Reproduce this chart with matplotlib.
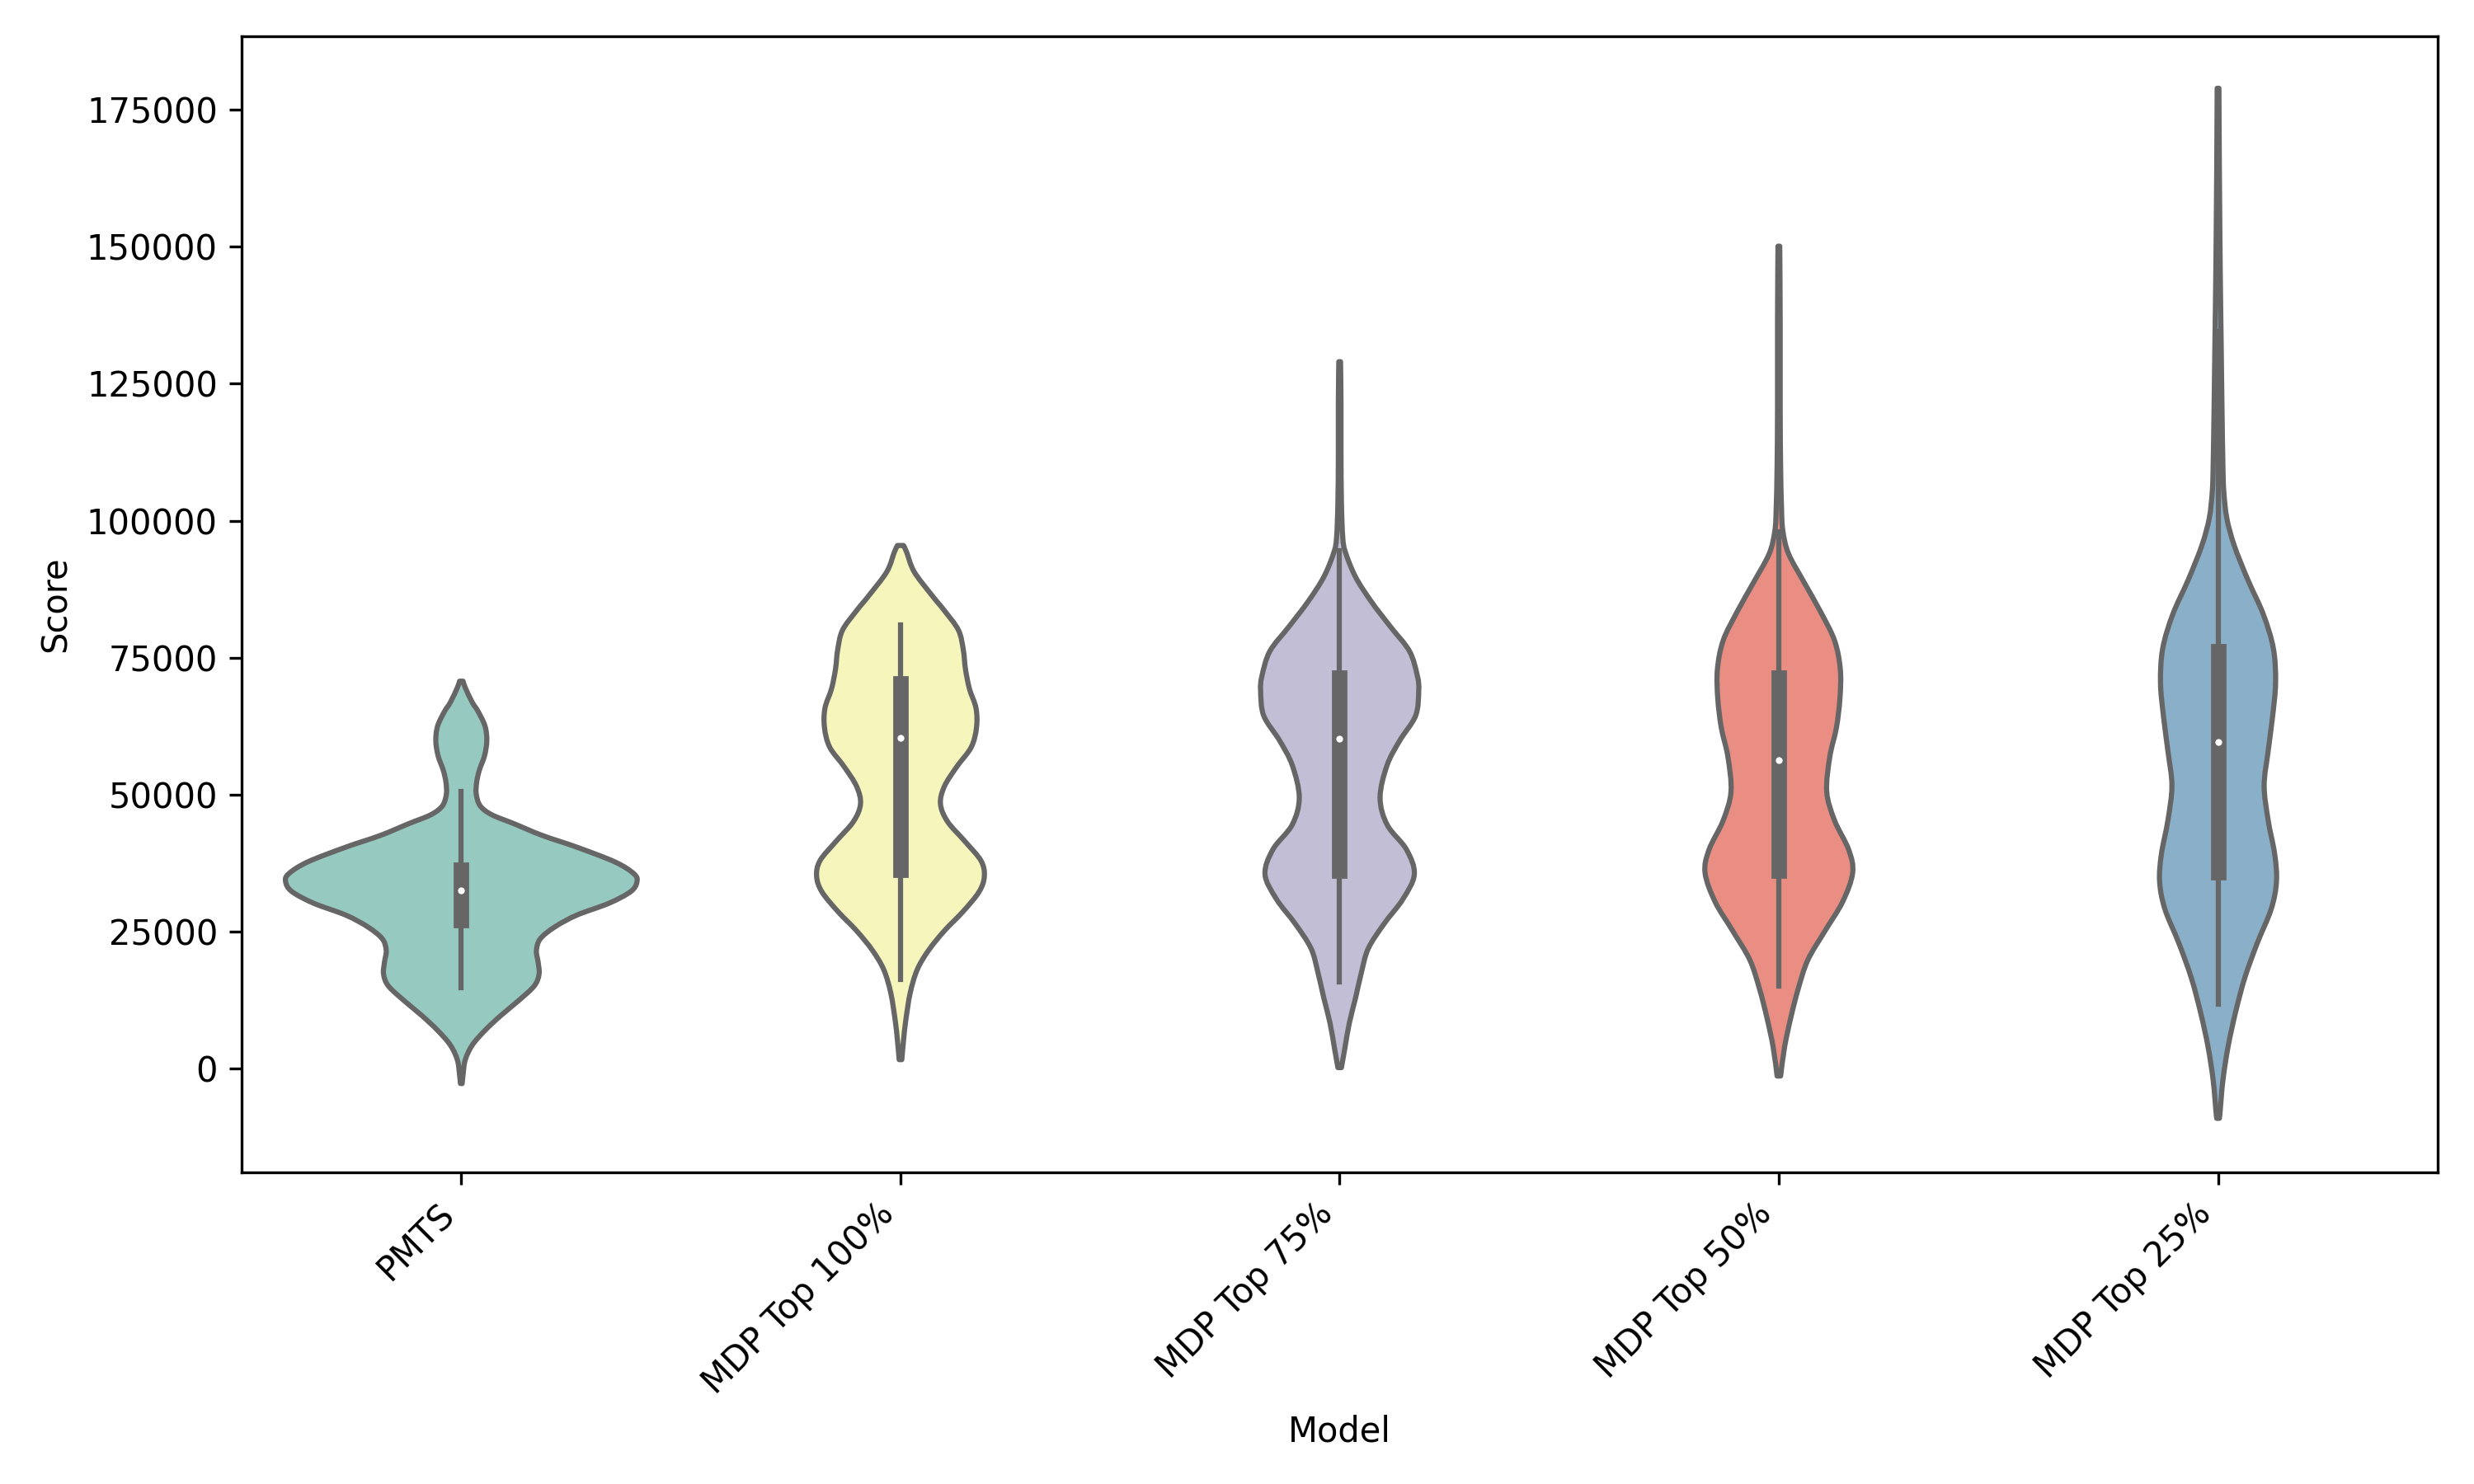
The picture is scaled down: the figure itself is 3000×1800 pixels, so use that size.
import colorsys
import numpy as np
import matplotlib
matplotlib.use("Agg")
import matplotlib.pyplot as plt
from matplotlib.colors import to_rgb
from matplotlib.path import Path
from matplotlib.patches import PathPatch

# ---------------- data ----------------
models = ["PMTS", "MDP Top 100%", "MDP Top 75%", "MDP Top 50%", "MDP Top 25%"]

# violin outlines: score values and half-width (kernel density, in category units)
pmts_y = [70720, 69535, 66850, 65225, 62520, 59835, 57150, 54450, 52280, 50135,
          47975, 46365, 44745, 42585, 40435, 37735, 35585, 34130, 32345, 30195,
          28035, 25885, 23725, 21575, 19415, 17255, 15105, 12405, 9715, 7010,
          4325, 1620, -1070, -2690]
pmts_d = [0.004, 0.009, 0.025, 0.038, 0.054, 0.058, 0.053, 0.041, 0.035, 0.034,
          0.043, 0.069, 0.119, 0.184, 0.263, 0.350, 0.393, 0.400, 0.386, 0.336,
          0.263, 0.213, 0.180, 0.171, 0.175, 0.177, 0.166, 0.130, 0.090, 0.054,
          0.025, 0.009, 0.004, 0.002]

top100_y = [95480, 94265, 90705, 86440, 83590, 80030, 76455, 72900, 69340, 65780,
            62220, 58660, 55090, 51530, 48335, 45120, 41560, 38005, 35150, 32300,
            28740, 25180, 21620, 18065, 13785, 8800, 5240, 1665]
top100_d = [0.007, 0.014, 0.031, 0.071, 0.100, 0.132, 0.143, 0.148, 0.157, 0.172,
            0.173, 0.161, 0.128, 0.100, 0.091, 0.107, 0.146, 0.183, 0.191, 0.179,
            0.143, 0.100, 0.064, 0.038, 0.022, 0.012, 0.007, 0.003]

top75_y = [129010, 121410, 112370, 103330, 96995, 94280, 89760, 85240, 80720, 76185,
           71665, 68950, 64430, 59910, 55390, 49505, 44535, 40015, 35480, 30960,
           26440, 21920, 17400, 12870, 8350, 3830, 210]
top75_d = [0.002, 0.003, 0.003, 0.004, 0.007, 0.013, 0.036, 0.072, 0.115, 0.159,
           0.177, 0.180, 0.173, 0.137, 0.108, 0.092, 0.108, 0.152, 0.170, 0.144,
           0.101, 0.065, 0.049, 0.036, 0.022, 0.012, 0.004]

top50_y = [150090, 136340, 120450, 109850, 102450, 98215, 93980, 88680, 83380, 78095,
           72795, 67510, 62210, 56910, 50555, 45270, 39970, 35735, 30435, 25150,
           19850, 14565, 9265, 3965, -1320]
top50_d = [0.002, 0.003, 0.003, 0.004, 0.006, 0.009, 0.022, 0.058, 0.095, 0.127,
           0.140, 0.139, 0.131, 0.116, 0.109, 0.127, 0.159, 0.168, 0.145, 0.105,
           0.066, 0.044, 0.027, 0.013, 0.004]

top25_y = [178900, 164265, 145495, 132985, 120470, 110460, 105450, 100450, 95450, 89190,
           82930, 76680, 70420, 64160, 57910, 51650, 45390, 39145, 34130, 29130,
           22870, 16620, 10360, 4100, -2150, -8410, -9000]
top25_d = [0.002, 0.003, 0.005, 0.007, 0.009, 0.011, 0.013, 0.020, 0.037, 0.068,
           0.103, 0.126, 0.131, 0.124, 0.114, 0.105, 0.114, 0.129, 0.133, 0.121,
           0.089, 0.061, 0.040, 0.023, 0.011, 0.004, 0.002]

# inner box statistics
q1 = [27130, 36350, 36170, 36095, 35795]
median = [32510, 60360, 60180, 56380, 59660]
q3 = [36325, 70290, 71430, 71385, 76140]
whisker_low = [14765, 16250, 15875, 15035, 11730]
whisker_high = [50580, 80910, 94500, 98000, 134500]

# ---------------- styling ----------------
base_palette = ["#8dd3c7", "#ffffb3", "#bebada", "#fb8072", "#80b1d3"]  # Set3


def desaturate(c, prop):
    h, l, s = colorsys.rgb_to_hls(*to_rgb(c))
    return colorsys.hls_to_rgb(h, l, s * prop)


colors = [desaturate(c, 0.75) for c in base_palette]
lum = min(colorsys.rgb_to_hls(*to_rgb(c))[1] for c in base_palette) * 0.6
gray = (lum, lum, lum)
lw = 1.5


def smooth_side(pts):
    """Bezier (Catmull-Rom) path segments through the given outline points."""
    verts, codes = [], []
    n = len(pts)
    for k in range(n - 1):
        p0 = pts[k - 1] if k > 0 else pts[k]
        p1 = pts[k]
        p2 = pts[k + 1]
        p3 = pts[k + 2] if k + 2 < n else pts[k + 1]
        c1 = p1 + (p2 - p0) / 6.0
        c2 = p2 - (p3 - p1) / 6.0
        verts += [c1, c2, p2]
        codes += [Path.CURVE4] * 3
    return verts, codes


def violin_path(center, ys, ds):
    ys = np.asarray(ys, float)
    ds = np.asarray(ds, float)
    order = np.argsort(ys)
    ys, ds = ys[order], ds[order]
    right = np.column_stack([center + ds, ys])
    left = np.column_stack([center - ds, ys])[::-1]
    verts = [right[0]]
    codes = [Path.MOVETO]
    v, c = smooth_side(right)
    verts += v
    codes += c
    verts.append(left[0])
    codes.append(Path.LINETO)
    v, c = smooth_side(left)
    verts += v
    codes += c
    verts.append(right[0])
    codes.append(Path.CLOSEPOLY)
    return Path(np.array(verts), codes)


fig = plt.figure(figsize=(10, 6), dpi=300)
ax = fig.add_axes([0.0977, 0.210, 0.8876, 0.7656])

profiles = [(pmts_y, pmts_d), (top100_y, top100_d), (top75_y, top75_d),
            (top50_y, top50_d), (top25_y, top25_d)]

for i, (ys, ds) in enumerate(profiles):
    patch = PathPatch(violin_path(i, ys, ds), facecolor=colors[i],
                      edgecolor=gray, linewidth=lw, zorder=1,
                      joinstyle="round")
    ax.add_patch(patch)
    ax.plot([i, i], [whisker_low[i], whisker_high[i]], color=gray,
            linewidth=lw, zorder=2)
    ax.plot([i, i], [q1[i], q3[i]], color=gray, linewidth=lw * 3, zorder=2)
    ax.scatter([i], [median[i]], color="white", edgecolor=gray,
               s=(lw * 2) ** 2, zorder=3)

ax.set_xlim(-0.5, 4.5)
ax.set_ylim(-18900, 188400)
ax.set_xticks(range(len(models)))
ax.set_xticklabels(models, rotation=45, ha="right")
ax.set_yticks([0, 25000, 50000, 75000, 100000, 125000, 150000, 175000])
ax.set_yticklabels(["0", "25000", "50000", "75000", "100000", "125000",
                    "150000", "175000"])
ax.set_xlabel("Model")
ax.set_ylabel("Score")

fig.savefig("out.png", dpi=300)
